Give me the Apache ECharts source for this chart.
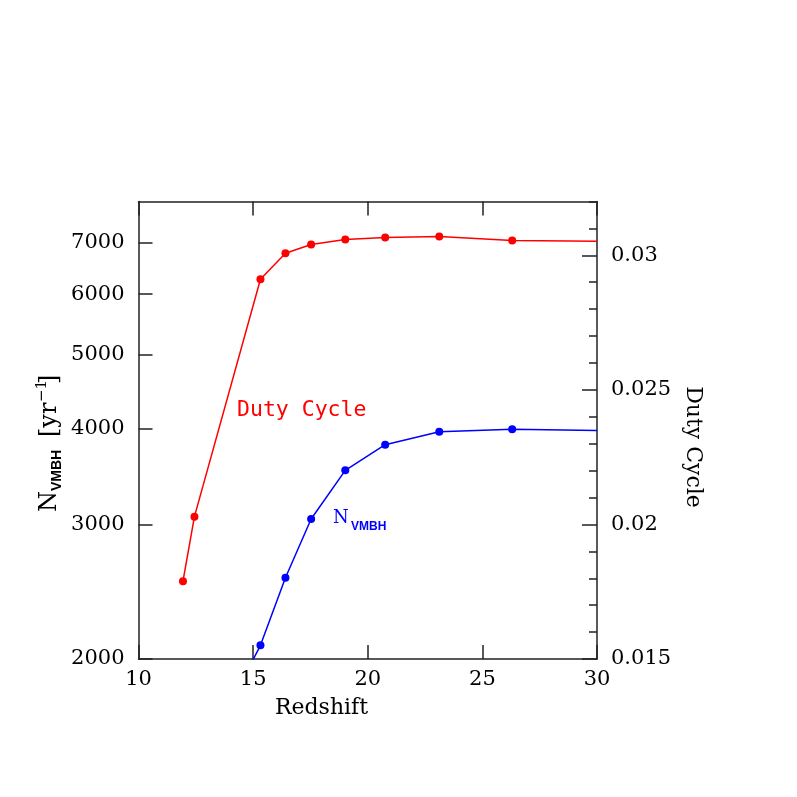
<!DOCTYPE html>
<html>
<head>
<meta charset="utf-8">
<script src="https://cdn.jsdelivr.net/npm/echarts@6/dist/echarts.min.js"></script>
<style>
html,body{margin:0;padding:0;background:#fff;}
#c{width:797px;height:797px;}
</style>
</head>
<body>
<div id="c"></div>
<script>
// ---- data ----
const redshiftDuty = [11.94, 12.44, 15.32, 16.41, 17.53, 19.02, 20.76, 23.12, 26.30, 30.0];
const dutyCycle    = [0.01789, 0.02029, 0.02911, 0.03008, 0.0304, 0.03059, 0.03066, 0.0307, 0.03055, 0.03052];
const redshiftN    = [12.44, 15.32, 16.41, 17.53, 19.02, 20.76, 23.12, 26.30, 30.0];
const nVMBH        = [1417, 2084, 2555, 3049, 3530, 3814, 3966, 3995, 3979];
const xTicks       = [10, 15, 20, 25, 30];
const leftTicks    = [2000, 3000, 4000, 5000, 6000, 7000];
const rightMajor   = [0.015, 0.02, 0.025, 0.03];
const rightMinor   = [0.015, 0.016, 0.017, 0.018, 0.019, 0.02, 0.021, 0.022, 0.023, 0.024, 0.025,
                      0.026, 0.027, 0.028, 0.029, 0.03, 0.031, 0.032];
const leftMin = 2000, leftMax = 7933;
const rightMin = 0.015, rightMax = 0.032;

const AX = '#222';
const SERIF = '"DejaVu Serif", serif';
const chart = echarts.init(document.getElementById('c'), null, {renderer: 'canvas'});

const lg = v => Math.log10(v);

const option = {
  animation: false,
  backgroundColor: '#fff',
  grid: {left: 138.5, right: 200, top: 201.5, bottom: 138, containLabel: false},
  xAxis: [
    {
      type: 'value', position: 'bottom', min: xTicks[0], max: xTicks[xTicks.length - 1], interval: 5,
      axisLine: {show: true, lineStyle: {color: AX, width: 1.5}},
      axisTick: {show: true, inside: true, length: 14, lineStyle: {color: AX, width: 1.5}},
      axisLabel: {show: true, margin: 10, fontFamily: SERIF, fontSize: 21, color: '#000'},
      splitLine: {show: false}
    },
    {
      type: 'value', position: 'top', min: xTicks[0], max: xTicks[xTicks.length - 1], interval: 5,
      axisLine: {show: true, lineStyle: {color: AX, width: 1.5}},
      axisTick: {show: true, inside: true, length: 14, lineStyle: {color: AX, width: 1.5}},
      axisLabel: {show: false},
      splitLine: {show: false}
    }
  ],
  yAxis: [
    {
      type: 'value', position: 'left', min: lg(leftMin), max: lg(leftMax),
      axisLine: {show: true, lineStyle: {color: AX, width: 1.5}},
      axisTick: {show: true, inside: true, length: 14, customValues: leftTicks.map(lg), lineStyle: {color: AX, width: 1.5}},
      axisLabel: {show: true, margin: 14, customValues: leftTicks.map(lg),
        verticalAlignMinLabel: 'middle',
        formatter: v => String(Math.round(Math.pow(10, v) / 100) * 100),
        fontFamily: SERIF, fontSize: 21, color: '#000'},
      splitLine: {show: false}
    },
    {
      type: 'value', position: 'right', min: rightMin, max: rightMax,
      axisLine: {show: true, lineStyle: {color: AX, width: 1.5}},
      axisTick: {show: true, inside: true, length: 8, customValues: rightMinor, lineStyle: {color: AX, width: 1.5}},
      axisLabel: {show: false},
      splitLine: {show: false}
    },
    {
      type: 'value', position: 'right', offset: 0, min: rightMin, max: rightMax,
      axisLine: {show: false},
      axisTick: {show: true, inside: true, length: 15, customValues: rightMajor, lineStyle: {color: AX, width: 1.5}},
      axisLabel: {show: true, margin: 14, customValues: rightMajor,
        verticalAlignMinLabel: 'middle',
        formatter: v => String(Math.round(v * 1000) / 1000),
        fontFamily: SERIF, fontSize: 21, color: '#000'},
      splitLine: {show: false}
    }
  ],
  series: [
    {
      type: 'line', xAxisIndex: 0, yAxisIndex: 1, clip: true,
      data: redshiftDuty.map((x, i) => i === redshiftDuty.length - 1
        ? {value: [x, dutyCycle[i]], symbol: 'none'} : [x, dutyCycle[i]]),
      symbol: 'circle', symbolSize: 8, showAllSymbol: true,
      lineStyle: {color: '#ff0000', width: 1.5},
      itemStyle: {color: '#ff0000'}
    },
    {
      type: 'line', xAxisIndex: 0, yAxisIndex: 0, clip: true,
      data: redshiftN.map((x, i) => (i === 0 || i === redshiftN.length - 1)
        ? {value: [x, lg(nVMBH[i])], symbol: 'none'} : [x, lg(nVMBH[i])]),
      symbol: 'circle', symbolSize: 8, showAllSymbol: true,
      lineStyle: {color: '#0000ff', width: 1.5},
      itemStyle: {color: '#0000ff'}
    }
  ],
  graphic: [
    // x axis title
    {type: 'text', x: 321.5, y: 708,
      style: {text: 'Redshift', font: '22px "DejaVu Serif"', fill: '#000', textAlign: 'center', verticalAlign: 'middle'}},
    // right axis title
    {type: 'text', x: 693, y: 447, rotation: -Math.PI / 2,
      style: {text: 'Duty Cycle', font: '22px "DejaVu Serif"', fill: '#000', textAlign: 'center', verticalAlign: 'middle'}},
    // left axis title
    {type: 'group', x: 50, y: 512, rotation: Math.PI / 2, children: [
      {type: 'text', x: 0, y: 0, style: {text: 'N', font: '24px "DejaVu Serif"', fill: '#000', textAlign: 'left', verticalAlign: 'middle'}},
      {type: 'text', x: 21, y: 7, style: {text: 'VMBH', font: 'bold 14px "Liberation Sans"', fill: '#000', textAlign: 'left', verticalAlign: 'middle'}},
      {type: 'text', x: 75, y: 0, style: {text: '[yr', font: '24px "DejaVu Serif"', fill: '#000', textAlign: 'left', verticalAlign: 'middle'}},
      {type: 'text', x: 110, y: -8, style: {text: '\u22121', font: '15px "DejaVu Serif"', fill: '#000', textAlign: 'left', verticalAlign: 'middle'}},
      {type: 'text', x: 128, y: 0, style: {text: ']', font: '24px "DejaVu Serif"', fill: '#000', textAlign: 'left', verticalAlign: 'middle'}}
    ]},
    // in-plot labels
    {type: 'text', x: 237, y: 410,
      style: {text: 'Duty Cycle', font: '21.5px "DejaVu Sans Mono"', fill: '#ff0000', textAlign: 'left', verticalAlign: 'middle'}},
    {type: 'text', x: 333, y: 518,
      style: {text: 'N', font: '18px "DejaVu Serif"', fill: '#0000ff', textAlign: 'left', verticalAlign: 'middle'}},
    {type: 'text', x: 351, y: 527,
      style: {text: 'VMBH', font: 'bold 12px "Liberation Sans"', fill: '#0000ff', textAlign: 'left', verticalAlign: 'middle'}}
  ]
};
chart.setOption(option);
</script>
</body>
</html>
